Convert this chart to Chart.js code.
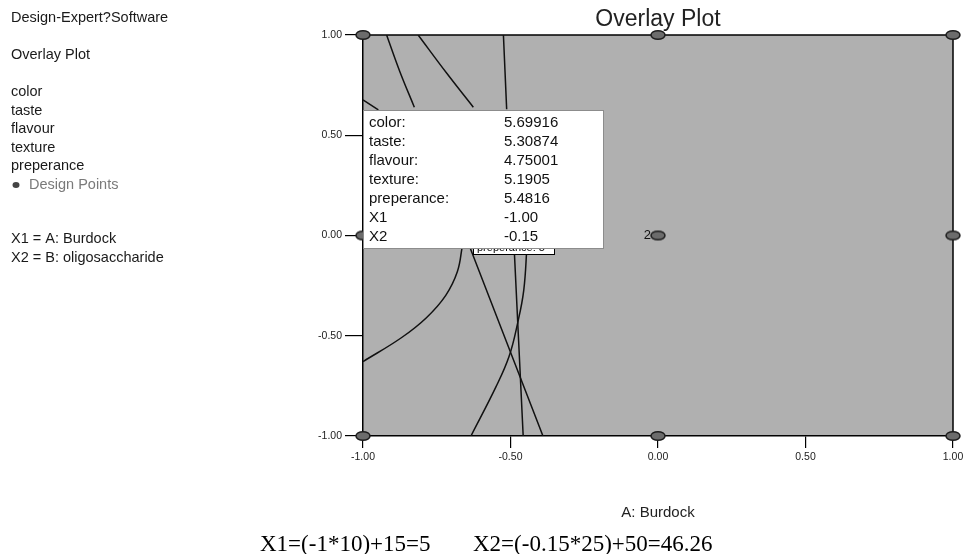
<!DOCTYPE html>
<html>
<head>
<meta charset="utf-8">
<script src="https://cdn.jsdelivr.net/npm/chart.js@4.4.1/dist/chart.umd.min.js"></script>
<style>
  body { margin: 0; background: #fff; }
  #plot { display: block; }
</style>
</head>
<body>
<canvas id="plot" width="964" height="554"></canvas>
<script>
// axis ticks (coded units)
const axisTicks = [-1, -0.5, 0, 0.5, 1];

// design points
const designX = [-1, 0, 1, -1, 0, 1, -1, 0, 1];
const designY = [1, 1, 1, 0, 0, 0, -1, -1, -1];

// contour lines; each one is split where the readout box hides it
const contour1TopX = [-0.920, -0.875, -0.826];
const contour1TopY = [1.0, 0.817, 0.640];
const contour1BotX = [-0.663, -0.680, -0.720, -0.785, -0.870, -1.0];
const contour1BotY = [-0.05, -0.180, -0.300, -0.410, -0.510, -0.629];

const contour2TopX = [-0.813, -0.716, -0.626];
const contour2TopY = [1.0, 0.809, 0.640];
const contour2BotX = [-0.444, -0.455, -0.476, -0.505, -0.549, -0.634];
const contour2BotY = [-0.05, -0.272, -0.438, -0.604, -0.754, -1.0];

const contour3TopX = [-0.524, -0.513];
const contour3TopY = [1.0, 0.630];
const contour3BotX = [-0.488, -0.457];
const contour3BotY = [-0.05, -1.0];

const contour4TopX = [-1.0, -0.948];
const contour4TopY = [0.676, 0.626];
const contour4BotX = [-0.640, -0.390];
const contour4BotY = [-0.05, -1.0];

// side panel and readout text
const responses = ['color', 'taste', 'flavour', 'texture', 'preperance'];
const factorNames = ['X1 = A: Burdock', 'X2 = B: oligosaccharide'];
const readoutNames = ['color:', 'taste:', 'flavour:', 'texture:', 'preperance:', 'X1', 'X2'];
const readoutValues = ['5.69916', '5.30874', '4.75001', '5.1905', '5.4816', '-1.00', '-0.15'];
const formulaX1 = 'X1=(-1*10)+15=5';
const formulaX2 = 'X2=(-0.15*25)+50=46.26';

const SANS = "'Liberation Sans', Arial, sans-serif";
const SERIF = "'Liberation Serif', 'Times New Roman', serif";

function pts(xs, ys) {
  return xs.map((x, i) => ({ x: x, y: ys[i] }));
}

function contourSet(xs, ys) {
  return {
    data: pts(xs, ys),
    showLine: true,
    borderColor: '#111',
    borderWidth: 1.5,
    pointRadius: 0,
    tension: 0.4,
    fill: false
  };
}

// ellipse marker for the design points
const dot = document.createElement('canvas');
dot.width = 18; dot.height = 12;
(function () {
  const c = dot.getContext('2d');
  c.beginPath();
  c.ellipse(9, 6, 7, 4.3, 0, 0, Math.PI * 2);
  c.fillStyle = '#6c6c6c';
  c.fill();
  c.lineWidth = 1.5;
  c.strokeStyle = '#1e1e1e';
  c.stroke();
})();

const overlay = {
  id: 'overlay',
  beforeDraw(chart) {
    const { ctx, chartArea: a } = chart;
    ctx.save();
    ctx.fillStyle = '#fff';
    ctx.fillRect(0, 0, chart.width, chart.height);
    ctx.fillStyle = '#b0b0b0';
    ctx.fillRect(a.left, a.top, a.right - a.left, a.bottom - a.top);
    ctx.restore();
  },
  beforeDatasetsDraw(chart) {
    const { ctx, chartArea: a } = chart;
    ctx.save();
    ctx.strokeStyle = '#000';
    ctx.lineWidth = 1.5;
    ctx.beginPath();
    ctx.moveTo(a.left, a.top);
    ctx.lineTo(a.right, a.top);
    ctx.lineTo(a.right, a.bottom);
    ctx.stroke();
    ctx.restore();
  },
  afterDraw(chart) {
    const { ctx, chartArea: a } = chart;
    const xs = chart.scales.x, ys = chart.scales.y;
    ctx.save();
    ctx.textBaseline = 'middle';

    // run count next to the centre point
    ctx.fillStyle = '#111';
    ctx.font = '13px ' + SANS;
    ctx.textAlign = 'right';
    ctx.fillText('2', xs.getPixelForValue(0) - 7, ys.getPixelForValue(0));

    // little flag label, mostly hidden under the readout
    ctx.fillStyle = '#fff';
    ctx.fillRect(473, 236, 81, 18);
    ctx.strokeStyle = '#000';
    ctx.lineWidth = 1;
    ctx.strokeRect(473.5, 236.5, 81, 18);
    ctx.fillStyle = '#000';
    ctx.textAlign = 'left';
    ctx.font = '11px ' + SANS;
    ctx.fillText('preperance: 5', 477, 248);

    // readout box
    ctx.fillStyle = '#fff';
    ctx.fillRect(a.left, 110, 240, 138);
    ctx.strokeStyle = '#8c8c8c';
    ctx.strokeRect(a.left + 0.5, 110.5, 240, 138);
    ctx.fillStyle = '#111';
    ctx.font = '15px ' + SANS;
    readoutNames.forEach((n, i) => {
      const y = 123 + i * 19;
      ctx.fillText(n, a.left + 6, y);
      ctx.fillText(readoutValues[i], a.left + 141, y);
    });

    // left panel
    ctx.font = '14.5px ' + SANS;
    ctx.fillStyle = '#1a1a1a';
    ctx.fillText('Design-Expert?Software', 11, 18);
    ctx.fillText('Overlay Plot', 11, 55);
    responses.forEach((r, i) => ctx.fillText(r, 11, 92 + i * 18.6));
    ctx.fillStyle = '#444';
    ctx.beginPath();
    ctx.ellipse(16, 185, 3.5, 3, 0, 0, Math.PI * 2);
    ctx.fill();
    ctx.fillStyle = '#7a7a7a';
    ctx.fillText('Design Points', 29, 185);
    ctx.fillStyle = '#1a1a1a';
    factorNames.forEach((f, i) => ctx.fillText(f, 11, 239 + i * 19));

    // title and axis title
    ctx.textAlign = 'center';
    ctx.fillStyle = '#222';
    ctx.font = '23px ' + SANS;
    ctx.fillText('Overlay Plot', (a.left + a.right) / 2, 20);
    ctx.font = '15px ' + SANS;
    ctx.fillText('A: Burdock', (a.left + a.right) / 2, 513);

    // coded-to-actual conversion line
    ctx.textAlign = 'left';
    ctx.textBaseline = 'alphabetic';
    ctx.fillStyle = '#000';
    ctx.font = '23px ' + SERIF;
    ctx.fillText(formulaX1, 260, 551);
    ctx.fillText(formulaX2, 473, 551);
    ctx.restore();
  }
};

const tickFont = { family: SANS, size: 10.5 };

new Chart(document.getElementById('plot'), {
  type: 'scatter',
  data: {
    datasets: [
      contourSet(contour1TopX, contour1TopY),
      contourSet(contour1BotX, contour1BotY),
      contourSet(contour2TopX, contour2TopY),
      contourSet(contour2BotX, contour2BotY),
      contourSet(contour3TopX, contour3TopY),
      contourSet(contour3BotX, contour3BotY),
      contourSet(contour4TopX, contour4TopY),
      contourSet(contour4BotX, contour4BotY),
      {
        data: pts(designX, designY),
        pointStyle: dot,
        pointRadius: 7,
        showLine: false,
        clip: false
      }
    ]
  },
  options: {
    responsive: false,
    animation: false,
    devicePixelRatio: 1,
    layout: { padding: { left: 313, right: 0, top: 35, bottom: 78 } },
    plugins: { legend: { display: false }, tooltip: { enabled: false } },
    scales: {
      x: {
        type: 'linear', min: -1, max: 1,
        afterBuildTicks: s => { s.ticks = axisTicks.map(v => ({ value: v })); },
        afterFit: s => { s.height = 40; s.paddingRight = 11; },
        ticks: { callback: v => v.toFixed(2), color: '#222', font: tickFont, padding: 3, maxRotation: 0 },
        grid: { drawOnChartArea: false, tickLength: 12, color: '#000', lineWidth: 1.2 },
        border: { color: '#000', width: 1.5 }
      },
      y: {
        type: 'linear', min: -1, max: 1,
        afterBuildTicks: s => { s.ticks = axisTicks.map(v => ({ value: v })); },
        afterFit: s => { s.width = 50; },
        ticks: { callback: v => v.toFixed(2), color: '#222', font: tickFont, padding: 3 },
        grid: { drawOnChartArea: false, tickLength: 18, color: '#000', lineWidth: 1.2 },
        border: { color: '#000', width: 1.5 }
      }
    }
  },
  plugins: [overlay]
});
</script>
</body>
</html>
